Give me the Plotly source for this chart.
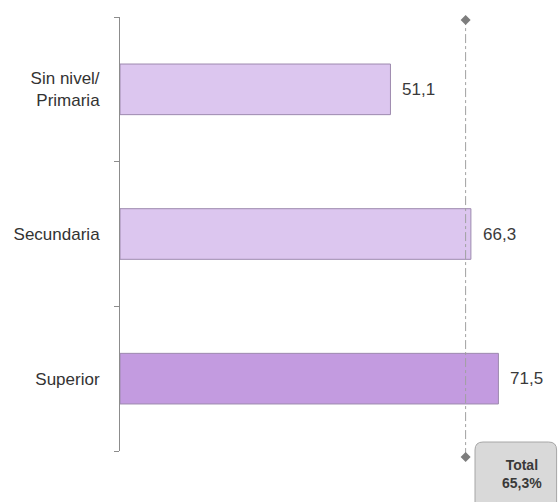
import plotly.graph_objects as go

# Data
categories = ["Sin nivel/<br>Primaria", "Secundaria", "Superior"]
values = [51.1, 66.3, 71.5]
bar_colors = ["#dcc6ef", "#dcc6ef", "#c39be0"]
total_value = 65.3


def fmt(v):
    return f"{v:.1f}".replace(".", ",")


FONT = "Liberation Sans, Arial, sans-serif"
n = len(categories)

fig = go.Figure()

fig.add_trace(go.Bar(
    x=values,
    y=categories,
    orientation="h",
    width=0.35,
    marker=dict(color=bar_colors, line=dict(color="#9d8aae", width=1)),
    hoverinfo="skip",
    showlegend=False,
))

# Value labels to the right of each bar
annotations = []
for cat, v in zip(categories, values):
    annotations.append(dict(
        x=v, y=cat, xref="x", yref="y",
        text=fmt(v), showarrow=False,
        xanchor="left", xshift=10,
        font=dict(family=FONT, size=17, color="#3a3a3a"),
    ))

# Total callout text
annotations.append(dict(
    x=0.926, y=-0.052, xref="paper", yref="paper",
    text=f"<b>Total<br>{fmt(total_value)}%</b>", showarrow=False,
    xanchor="center", yanchor="middle",
    font=dict(family=FONT, size=14, color="#3a3a3a"),
))

# Rounded box behind the total callout
x0, x1, y0, y1, r = 0.818, 1.006, -0.14, 0.0207, 0.0184
box_path = (
    f"M {x0 + r},{y1} L {x1 - r},{y1} Q {x1},{y1} {x1},{y1 - r} "
    f"L {x1},{y0 + r} Q {x1},{y0} {x1 - r},{y0} "
    f"L {x0 + r},{y0} Q {x0},{y0} {x0},{y0 + r} "
    f"L {x0},{y1 - r} Q {x0},{y1} {x0 + r},{y1} Z"
)

line_top, line_bottom = 0.993, -0.014
diamond = "M 0,5 L 5,0 L 0,-5 L -5,0 Z"

shapes = [
    dict(
        type="path", path=box_path, xref="paper", yref="paper",
        fillcolor="#d9d9d9", line=dict(color="#a6a6a6", width=1),
        layer="below",
    ),
    # Dash-dot reference line at the overall total
    dict(
        type="line", xref="x", yref="paper",
        x0=total_value, x1=total_value, y0=line_bottom, y1=line_top,
        line=dict(color="#a0a0a0", width=1, dash="dashdot"),
    ),
]
for yy in (line_top, line_bottom):
    shapes.append(dict(
        type="path", xref="x", yref="paper",
        xsizemode="pixel", ysizemode="pixel",
        xanchor=total_value, yanchor=yy,
        path=diamond, fillcolor="#7d7d7d", line=dict(width=0),
    ))

fig.update_layout(
    width=558, height=502,
    margin=dict(l=120, r=4, t=17, b=51),
    paper_bgcolor="white", plot_bgcolor="white",
    font=dict(family=FONT, size=17, color="#333333"),
    xaxis=dict(range=[0, 82], visible=False, showgrid=False, zeroline=False),
    yaxis=dict(
        type="category",
        autorange=False,
        range=[n - 0.5, -0.5],
        showline=True, linecolor="#8c8c8c", linewidth=1,
        ticks="", showgrid=False, zeroline=False,
        ticklabelstandoff=16,
        tickfont=dict(size=17, color="#333333"),
    ),
    # Overlay axis carrying the tick marks at the category boundaries
    yaxis2=dict(
        overlaying="y", side="left", range=[0, 1],
        tickmode="array", tickvals=[i / n for i in range(n + 1)],
        ticks="outside", ticklen=5, tickcolor="#8c8c8c",
        showticklabels=False, showline=False,
        showgrid=False, zeroline=False,
    ),
    shapes=shapes,
    annotations=annotations,
)

# Invisible trace so the overlay axis is rendered
fig.add_trace(go.Scatter(
    x=[None], y=[None], yaxis="y2", mode="markers",
    showlegend=False, hoverinfo="skip",
))

fig.write_html("out.html")
